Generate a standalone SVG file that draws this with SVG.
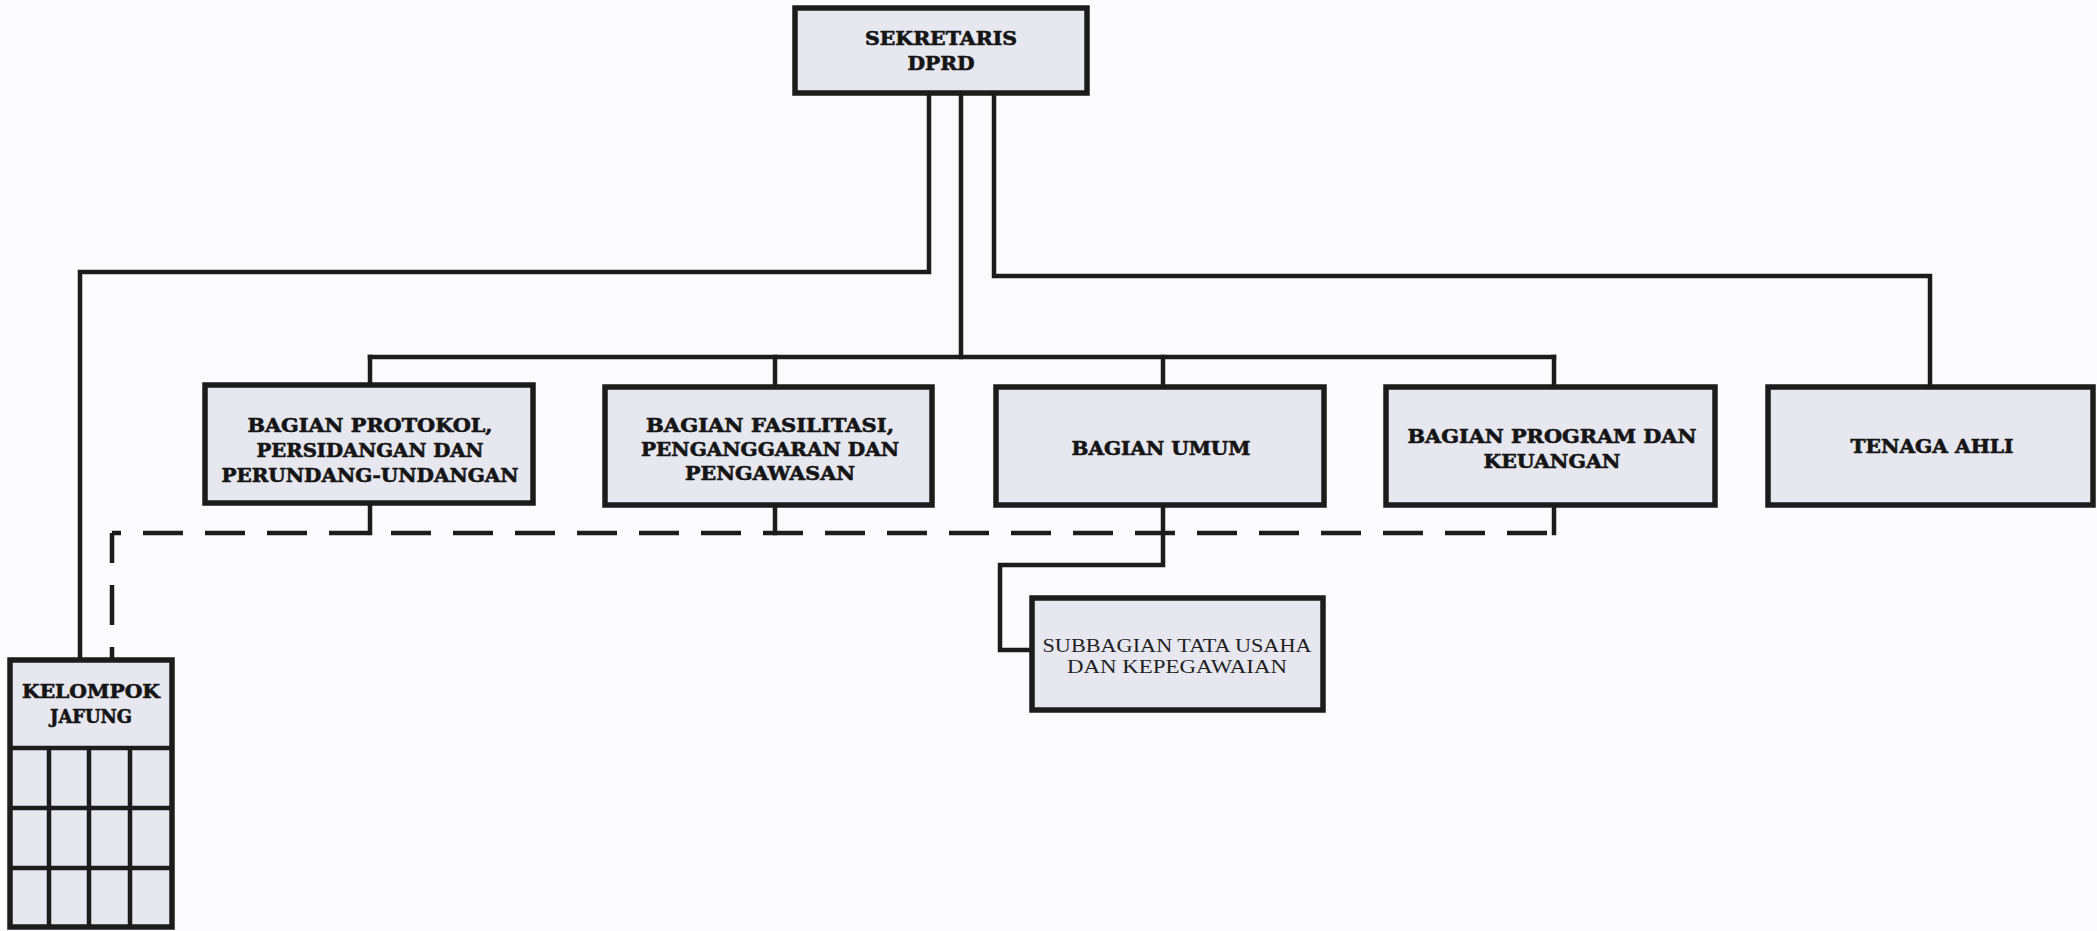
<svg xmlns="http://www.w3.org/2000/svg" width="2097" height="931" viewBox="0 0 2097 931">
<style>
.bg { fill: #fbfbfd; }
.box { fill: #e7e7ef; stroke: #1c1c1c; stroke-width: 5.5; }
.grid { fill: none; stroke: #1c1c1c; stroke-width: 4.5; }
.conn { fill: none; stroke: #1c1c1c; stroke-width: 4.5; stroke-linejoin: miter; stroke-linecap: square; }
.dash { fill: none; stroke: #1c1c1c; stroke-width: 4.5; stroke-dasharray: 40 22; }
.tb { font-family: "DejaVu Serif", "Liberation Serif", serif; font-weight: bold; font-size: 18px; fill: #151515; stroke: #151515; stroke-width: 0.6; text-anchor: middle; }
.tr { font-family: "Liberation Serif", "DejaVu Serif", serif; font-size: 19.5px; fill: #1e1e1e; text-anchor: middle; }
</style>
<rect class="bg" x="0" y="0" width="2097" height="931"/>

<g id="connectors">
  <path class="conn" d="M929,93 V272 H80 V660"/>
  <path class="conn" d="M994,93 V276 H1930 V387"/>
  <path class="conn" d="M961,93 V357"/>
  <path class="conn" d="M370,357 H1554"/>
  <path class="conn" d="M370,357 V387 M775,357 V387 M1163,357 V387 M1554,357 V387"/>
  <path class="conn" d="M370,503 V533 M775,505 V533 M1554,505 V533"/>
  <path class="conn" d="M1163,505 V565 H1000 V650 H1032"/>
  <path class="dash" d="M112,533 H1554" stroke-dashoffset="31"/>
  <path class="dash" d="M112,533 V660" stroke-dashoffset="10"/>
</g>

<g id="sekretaris">
  <rect class="box" x="795" y="8" width="292" height="85"/>
  <text class="tb" x="941" y="45" textLength="152" lengthAdjust="spacingAndGlyphs">SEKRETARIS</text>
  <text class="tb" x="941" y="70" textLength="67" lengthAdjust="spacingAndGlyphs">DPRD</text>
</g>

<g id="bagian-protokol">
  <rect class="box" x="205" y="385" width="328" height="118"/>
  <text class="tb" x="370" y="432" textLength="245" lengthAdjust="spacingAndGlyphs">BAGIAN PROTOKOL,</text>
  <text class="tb" x="370" y="457" textLength="227" lengthAdjust="spacingAndGlyphs">PERSIDANGAN DAN</text>
  <text class="tb" x="370" y="482" textLength="297" lengthAdjust="spacingAndGlyphs">PERUNDANG-UNDANGAN</text>
</g>

<g id="bagian-fasilitasi">
  <rect class="box" x="605" y="387" width="327" height="118"/>
  <text class="tb" x="770" y="432" textLength="248" lengthAdjust="spacingAndGlyphs">BAGIAN FASILITASI,</text>
  <text class="tb" x="770" y="456" textLength="258" lengthAdjust="spacingAndGlyphs">PENGANGGARAN DAN</text>
  <text class="tb" x="770" y="480" textLength="170" lengthAdjust="spacingAndGlyphs">PENGAWASAN</text>
</g>

<g id="bagian-umum">
  <rect class="box" x="996" y="387" width="328" height="118"/>
  <text class="tb" x="1161" y="455" textLength="179" lengthAdjust="spacingAndGlyphs">BAGIAN UMUM</text>
</g>

<g id="bagian-program">
  <rect class="box" x="1386" y="387" width="329" height="118"/>
  <text class="tb" x="1552" y="443" textLength="289" lengthAdjust="spacingAndGlyphs">BAGIAN PROGRAM DAN</text>
  <text class="tb" x="1552" y="468" textLength="137" lengthAdjust="spacingAndGlyphs">KEUANGAN</text>
</g>

<g id="tenaga-ahli">
  <rect class="box" x="1768" y="387" width="325" height="118"/>
  <text class="tb" x="1932" y="453" textLength="163" lengthAdjust="spacingAndGlyphs">TENAGA AHLI</text>
</g>

<g id="subbagian">
  <rect class="box" x="1032" y="598" width="291" height="112"/>
  <text class="tr" x="1177" y="652" textLength="269" lengthAdjust="spacingAndGlyphs">SUBBAGIAN TATA USAHA</text>
  <text class="tr" x="1177" y="673" textLength="220" lengthAdjust="spacingAndGlyphs">DAN KEPEGAWAIAN</text>
</g>

<g id="kelompok-jafung">
  <rect class="box" x="10" y="660" width="162" height="267"/>
  <path class="grid" d="M10,748 H172 M10,808 H172 M10,868 H172 M49,748 V927 M89,748 V927 M130,748 V927"/>
  <text class="tb" x="91" y="698" textLength="138" lengthAdjust="spacingAndGlyphs">KELOMPOK</text>
  <text class="tb" x="91" y="723" textLength="82" lengthAdjust="spacingAndGlyphs">JAFUNG</text>
</g>
</svg>
